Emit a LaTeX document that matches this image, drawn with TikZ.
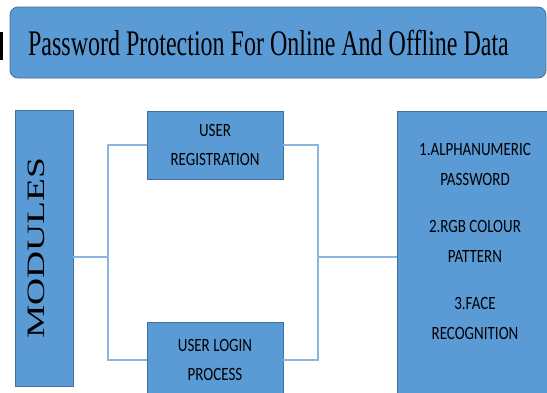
\documentclass[tikz,border=0pt]{standalone}
\usepackage{fontspec}
\setmainfont{Liberation Serif}
\newfontfamily\calibrifont{Carlito}
\usepackage{graphicx}
\usepackage{xcolor}
\usepackage{tikz}
\usetikzlibrary{positioning,calc}
\definecolor{boxblue}{RGB}{91,155,213}
\definecolor{edgeblue}{RGB}{65,113,156}
\definecolor{wireblue}{RGB}{140,180,225}
\newcommand{\tall}[2][1.25]{\scalebox{1}[#1]{#2}}

\begin{document}
\begin{tikzpicture}[x=1pt, y=-1pt,
      box/.style={draw=edgeblue, fill=boxblue, line width=0.8pt, inner sep=0pt},
      module/.style={box, minimum width=136pt, align=center,
                     font=\calibrifont\fontsize{15}{29}\selectfont},
      listtext/.style={align=center, font=\calibrifont\fontsize{15}{29.5}\selectfont},
      wire/.style={draw=wireblue, line width=1.2pt}]
    \useasboundingbox (0,0) rectangle (547,392);
    \clip (0,0) rectangle (547,392);

    \fill (0,32) rectangle (3,60);

    \node[box, rounded corners=8pt, minimum width=536pt, minimum height=71pt,
          font=\fontsize{24}{24}\selectfont] (title) at (278,42.5)
      {\tall[1.5]{Password Protection For Online And Offline Data}\hspace*{19pt}};

    \node[box, minimum width=58pt, minimum height=276pt,
          font=\fontsize{25}{25}\selectfont] (modules) at (44,248)
      {\rotatebox{90}{\scalebox{1.5}[1]{MODULES}}\hspace*{15pt}};

    \node[module, minimum height=68pt] (reg) at (215,145)
      {\tall{USER}\\\tall{REGISTRATION}};
    \node[module, minimum height=76pt] (login) at (215,360)
      {\tall{USER LOGIN}\\\tall{PROCESS}};

    \node[box, minimum width=163pt, minimum height=289pt] (feat) at (478.5,255.5) {};
    \node[listtext] (featlist) at (475,241.5)
      {\tall{1.ALPHANUMERIC}\\\tall{PASSWORD}\\[18pt]
       \tall{2.RGB COLOUR}\\\tall{PATTERN}\\[18pt]
       \tall{3.FACE}\\\tall{RECOGNITION}};

    \coordinate (ljoin) at (108,257);
    \coordinate (rjoin) at (318,257);
    \draw[wire] (modules.east |- ljoin) -- (ljoin);
    \draw[wire] (reg.west) -| (ljoin) |- (login.west);
    \draw[wire] (reg.east) -| (rjoin) |- (login.east);
    \draw[wire] (rjoin) -- (rjoin -| feat.west);
  \end{tikzpicture}
\end{document}
